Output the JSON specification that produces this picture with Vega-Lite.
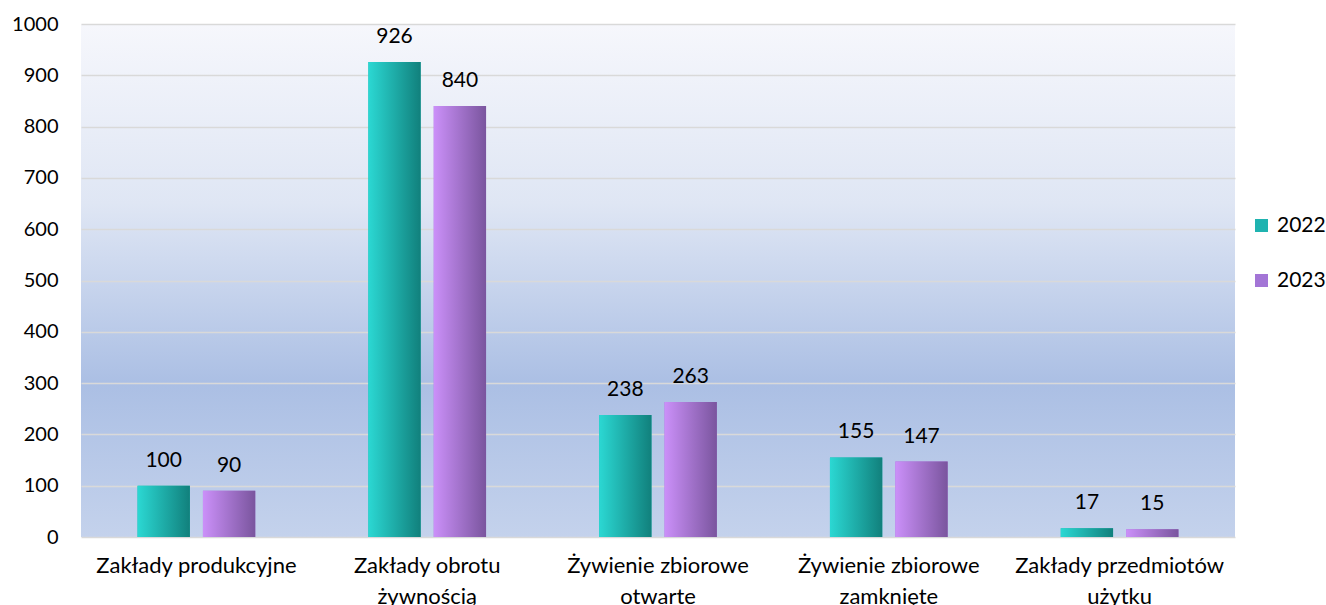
{
  "$schema": "https://vega.github.io/schema/vega-lite/v6.json",
  "width": 1154,
  "height": 513,
  "autosize": {"type": "none"},
  "padding": {"left": 81, "top": 24, "right": 91, "bottom": 68},
  "background": "white",
  "view": {
    "stroke": null,
    "fill": {
      "gradient": "linear", "x1": 0, "y1": 0, "x2": 0, "y2": 1,
      "stops": [
        {"offset": 0, "color": "#f6f7fc"},
        {"offset": 0.35, "color": "#dfe6f4"},
        {"offset": 0.7, "color": "#abbfe4"},
        {"offset": 1, "color": "#c4d2ec"}
      ]
    }
  },
  "config": {
    "font": "Lato",
    "axis": {"labelFont": "Lato", "labelFontSize": 20, "labelColor": "#000000", "labelLimit": 0},
    "legend": {"labelFont": "Lato", "labelFontSize": 21, "labelColor": "#000000", "labelLimit": 0}
  },
  "data": {
    "values": [
      {"category": "Zakłady produkcyjne", "year": "2022", "value": 100},
      {"category": "Zakłady produkcyjne", "year": "2023", "value": 90},
      {"category": "Zakłady obrotu żywnością", "year": "2022", "value": 926},
      {"category": "Zakłady obrotu żywnością", "year": "2023", "value": 840},
      {"category": "Żywienie zbiorowe otwarte", "year": "2022", "value": 238},
      {"category": "Żywienie zbiorowe otwarte", "year": "2023", "value": 263},
      {"category": "Żywienie zbiorowe zamknięte", "year": "2022", "value": 155},
      {"category": "Żywienie zbiorowe zamknięte", "year": "2023", "value": 147},
      {"category": "Zakłady przedmiotów użytku", "year": "2022", "value": 17},
      {"category": "Zakłady przedmiotów użytku", "year": "2023", "value": 15}
    ]
  },
  "encoding": {
    "x": {
      "field": "category", "type": "nominal", "sort": null, "title": null,
      "scale": {"paddingInner": 0.49, "paddingOuter": 0.245},
      "axis": {
        "labelAngle": 0, "ticks": false, "domain": false, "labelPadding": 18,
        "labelFontSize": 22,
        "labelLineHeight": 31, "labelBaseline": "top",
        "labelExpr": "datum.label == 'Zakłady produkcyjne' ? 'Zakłady produkcyjne' : datum.label == 'Zakłady obrotu żywnością' ? ['Zakłady obrotu', 'żywnością'] : datum.label == 'Żywienie zbiorowe otwarte' ? ['Żywienie zbiorowe', 'otwarte'] : datum.label == 'Żywienie zbiorowe zamknięte' ? ['Żywienie zbiorowe', 'zamknięte'] : ['Zakłady przedmiotów', 'użytku']"
      }
    },
    "xOffset": {"field": "year", "type": "nominal", "scale": {"paddingInner": 0.2, "paddingOuter": 0}},
    "y": {
      "field": "value", "type": "quantitative", "title": null,
      "scale": {"domain": [0, 1000], "nice": false},
      "axis": {
        "values": [0, 100, 200, 300, 400, 500, 600, 700, 800, 900, 1000],
        "format": "d",
        "ticks": false, "domain": false, "labelPadding": 23,
        "gridColor": "#d9d9d9", "gridWidth": 1.5
      }
    }
  },
  "layer": [
    {
      "mark": {"type": "bar"},
      "encoding": {
        "color": {
          "field": "year", "type": "nominal", "title": null,
          "scale": {"domain": ["2022", "2023"], "range": ["#1fb3b0", "#a375d6"]},
          "legend": {
            "orient": "none", "legendX": 1170, "legendY": 191,
            "symbolType": "square", "symbolSize": 170, "symbolStrokeWidth": 0,
            "rowPadding": 33, "labelOffset": 5, "padding": 0,
            "encode": {
              "symbols": {
                "update": {
                  "fill": [
                    {"test": "datum.value === '2022'", "value": {"gradient": "linear", "x1": 0, "y1": 0, "x2": 1, "y2": 0, "stops": [{"offset": 0, "color": "#2bd8d3"}, {"offset": 1, "color": "#11807c"}]}},
                    {"value": {"gradient": "linear", "x1": 0, "y1": 0, "x2": 1, "y2": 0, "stops": [{"offset": 0, "color": "#cb90f9"}, {"offset": 1, "color": "#7a559e"}]}}
                  ],
                  "opacity": {"value": 1}
                }
              }
            }
          }
        }
      }
    },
    {
      "mark": {"type": "bar"},
      "encoding": {
        "fill": {
          "condition": {
            "test": "datum.year == '2022'",
            "value": {"gradient": "linear", "x1": 0, "y1": 0, "x2": 1, "y2": 0, "stops": [{"offset": 0, "color": "#2bd8d3"}, {"offset": 1, "color": "#11807c"}]}
          },
          "value": {"gradient": "linear", "x1": 0, "y1": 0, "x2": 1, "y2": 0, "stops": [{"offset": 0, "color": "#cb90f9"}, {"offset": 1, "color": "#7a559e"}]}
        }
      }
    },
    {
      "mark": {"type": "text", "baseline": "middle", "dy": -25, "fontSize": 21, "font": "Lato", "color": "#000000"},
      "encoding": {"text": {"field": "value", "type": "quantitative"}}
    }
  ]
}
